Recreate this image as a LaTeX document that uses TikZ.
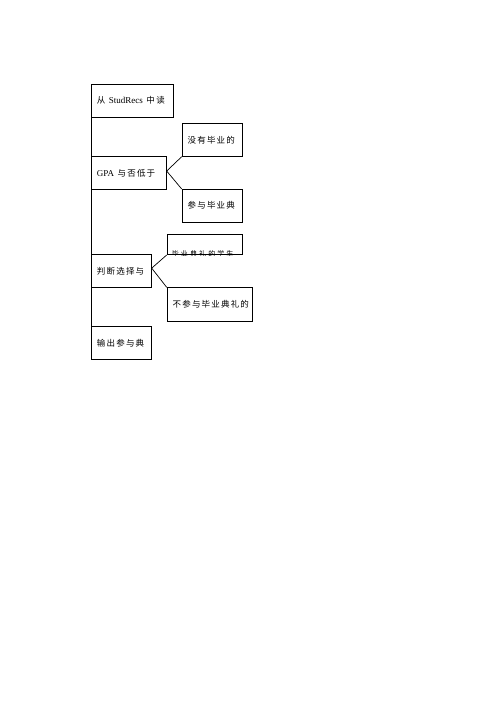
\documentclass[tikz,border=0pt]{standalone}
\usepackage{fontspec}
\setmainfont{Liberation Serif}
\newfontfamily\cjk[LetterSpace=14]{Noto Sans CJK SC}
\begin{document}
\begin{tikzpicture}[x=1pt,y=-1pt,
  box/.style={draw, line width=0.7pt, rectangle, anchor=north west, inner xsep=5.6pt, inner ysep=0pt, align=left, font=\fontsize{8.5}{10}\selectfont},
  conn/.style={draw, line width=0.7pt}]
\useasboundingbox (0,0) rectangle (500,707);
\node[box, minimum width=82.3pt, minimum height=32.7pt, text width=71.1pt] (b1) at (91,84) {\cjk 从\hspace{3.5pt}\normalfont\fontsize{9}{10}\selectfont StudRecs\hspace{3.5pt}\cjk\fontsize{8.5}{10}\selectfont 中\hspace{1.5pt}读};
\node[box, minimum width=60.6pt, minimum height=32.7pt, text width=49.4pt] (b2) at (181.7,123.3) {\cjk 没有毕业的};
\node[box, minimum width=75pt, minimum height=33pt, text width=63.8pt] (b3) at (91,156) {\fontsize{9}{10}\selectfont GPA\hspace{3.5pt}\cjk\fontsize{8.5}{10}\selectfont 与否低于};
\node[box, minimum width=60.6pt, minimum height=32.7pt, text width=49.4pt] (b4) at (181.7,189) {\cjk 参与毕业典};
\node[box, minimum width=75.6pt, minimum height=20pt, text width=64.4pt] (b5) at (166.7,234.3) {};
\begin{scope}
\clip (b5.south west) rectangle (b5.north east);
\node[anchor=west, inner sep=0pt, font=\fontsize{7}{8}\selectfont] (t5) at (171.7,253.5) {\cjk\addfontfeature{LetterSpace=30}毕业典礼的学生};
\end{scope}
\node[box, minimum width=60pt, minimum height=33pt, text width=48.8pt] (b6) at (91,254.3) {\cjk 判断选择与};
\node[box, minimum width=85.6pt, minimum height=33.4pt, text width=74.4pt] (b7) at (166.7,287.3) {\cjk 不参与毕业典礼的};
\node[box, minimum width=60pt, minimum height=33.3pt, text width=48.8pt] (b8) at (91,326) {\cjk 输出参与典};
\draw[conn] (b1.south west) -- (b3.north west);
\draw[conn] (b3.south west) -- (b6.north west);
\draw[conn] (b6.south west) -- (b8.north west);
\coordinate (p3) at ([yshift=1.8pt]b3.east);
\draw[conn] (b2.south west) -- (p3) -- (b4.north west);
\coordinate (p6) at ([yshift=3pt]b6.east);
\draw[conn] (b5.south west) -- (p6) -- (b7.north west);
\end{tikzpicture}
\end{document}
